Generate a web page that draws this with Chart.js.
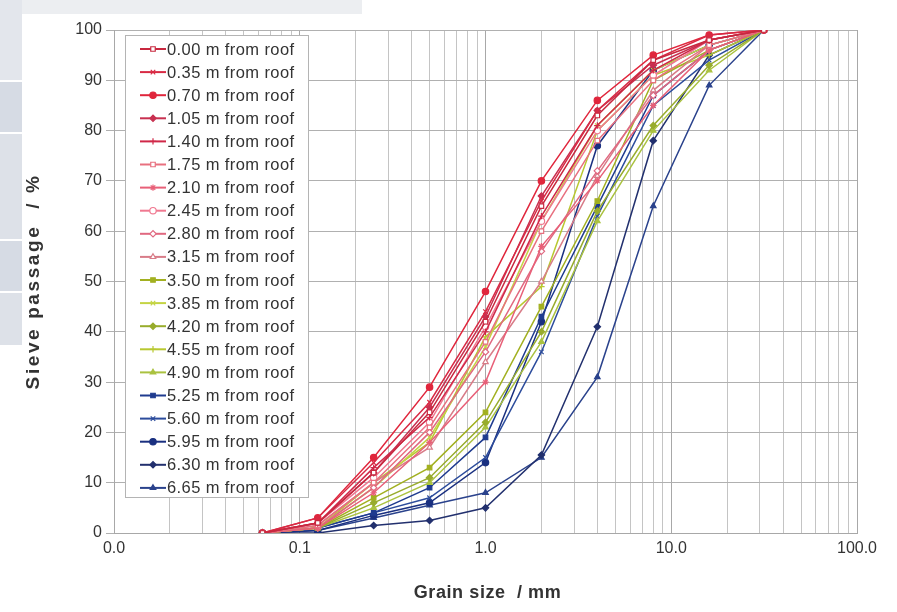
<!DOCTYPE html>
<html>
<head>
<meta charset="utf-8">
<script src="https://cdn.jsdelivr.net/npm/chart.js@4.4.1/dist/chart.umd.min.js"></script>
<style>
html,body{margin:0;padding:0;background:#fff;}
#wrap{position:relative;width:897px;height:612px;overflow:hidden;}
.bg{position:absolute;}
canvas{position:absolute;left:0;top:0;}
</style>
</head>
<body>
<div id="wrap">
<div class="bg" style="left:0;top:0;width:22px;height:80px;background:#e3e6ec;"></div>
<div class="bg" style="left:0;top:82px;width:22px;height:50px;background:#d6dbe4;"></div>
<div class="bg" style="left:0;top:134px;width:22px;height:105px;background:#dde1e8;"></div>
<div class="bg" style="left:0;top:241px;width:22px;height:50px;background:#d6dbe4;"></div>
<div class="bg" style="left:0;top:293px;width:22px;height:52px;background:#dde1e8;"></div>
<div class="bg" style="left:22px;top:0;width:340px;height:14px;background:#eceef1;"></div>
<canvas id="c" width="897" height="612"></canvas>
</div>
<script>
// Grain sizes (mm)
const grainSizes = [0.063, 0.125, 0.25, 0.5, 1, 2, 4, 8, 16, 31.5];
// Tick labels on the log axis (decades)
const xDecades = [0.01, 0.1, 1, 10, 100];
const yTicks = [0,10,20,30,40,50,60,70,80,90,100];
const xTitle = "Grain size  / mm";
const yTitle = "Sieve passage  / %";

// Series labels
const seriesLabels = [
  "0.00 m from roof","0.35 m from roof","0.70 m from roof","1.05 m from roof","1.40 m from roof",
  "1.75 m from roof","2.10 m from roof","2.45 m from roof","2.80 m from roof","3.15 m from roof",
  "3.50 m from roof","3.85 m from roof","4.20 m from roof","4.55 m from roof","4.90 m from roof",
  "5.25 m from roof","5.60 m from roof","5.95 m from roof","6.30 m from roof","6.65 m from roof"
];

// Sieve passage (%) per depth
const d000 = [0, 2.0, 12, 24, 42, 65, 83, 94, 98, 100];
const d035 = [0, 3.0, 14, 26, 44, 66, 84, 94, 99, 100];
const d070 = [0, 3.0, 15, 29, 48, 70, 86, 95, 99, 100];
const d105 = [0, 2.0, 12, 25, 43, 67, 84, 93, 98, 100];
const d140 = [0, 2.0, 13, 23, 40, 63, 81, 92, 98, 100];
const d175 = [0, 1.5, 10, 21, 38, 60, 78, 90, 97, 100];
const d210 = [0, 1.0, 8, 18, 30, 57, 70, 85, 96, 100];
const d245 = [0, 2.0, 11, 22, 41, 62, 80, 91, 98, 100];
const d280 = [0, 1.0, 9, 20, 36, 56, 72, 87, 96, 100];
const d315 = [0, 1.5, 10, 17, 34, 50, 71, 88, 97, 100];
const d350 = [0, 1.0, 7, 13, 24, 45, 66, 90, 96, 100];
const d385 = [0, 1.0, 9, 19, 37, 62, 81, 92, 97, 100];
const d420 = [0, 1.0, 6, 11, 22, 40, 64, 81, 93, 100];
const d455 = [0, 1.0, 10, 18, 39, 49, 80, 91, 95, 100];
const d490 = [0, 1.0, 5, 10, 21, 38, 62, 80, 92, 100];
const d525 = [0, 1.0, 4, 9, 19, 43, 65, 87, 96, 100];
const d560 = [0, 1.0, 4, 7, 15, 36, 63, 85, 94, 100];
const d595 = [0, 0.5, 3.5, 6, 14, 42, 77, 92, 97, 100];
const d630 = [0, 0.0, 1.5, 2.5, 5, 15.5, 41, 78, 95, 100];
const d665 = [0, 0.5, 3, 5.5, 8, 15, 31, 65, 89, 100];
const seriesValues = [d000,d035,d070,d105,d140,d175,d210,d245,d280,d315,
                      d350,d385,d420,d455,d490,d525,d560,d595,d630,d665];

// Styles
const lineColors = [
  "#c8283f","#d82a44","#e0263c","#c83050","#d02848",
  "#e8707f","#e86078","#f07890","#e06880","#d87c88",
  "#a2b020","#c4d444","#98ac2c","#b8c830","#aac240",
  "#1f3b8f","#2c4c9c","#1a3080","#22306e","#2a428c"
];
const markerStyles = ["rect","crossRot","circle","rectRot","cross",
                      "rect","star","circle","rectRot","triangle",
                      "rect","crossRot","rectRot","cross","triangle",
                      "rect","crossRot","circle","rectRot","triangle"];
const markerFilled = [false,true,true,true,true,
                      false,true,false,false,false,
                      true,true,true,true,true,
                      true,true,true,true,true];

const datasets = seriesLabels.map((lab, i) => ({
  label: lab,
  data: grainSizes.map((g, j) => ({x: g, y: seriesValues[i][j]})),
  borderColor: lineColors[i],
  backgroundColor: markerFilled[i] ? lineColors[i] : "#ffffff",
  pointBorderColor: lineColors[i],
  pointBackgroundColor: markerFilled[i] ? lineColors[i] : "#ffffff",
  pointStyle: markerStyles[i],
  pointRadius: 3.2,
  pointBorderWidth: 1.2,
  borderWidth: 1.5,
  tension: 0,
  fill: false
}));

const FONT = "'Liberation Sans', Arial, sans-serif";

const legendPlugin = {
  id: 'insideLegend',
  afterDraw(chart) {
    const ctx = chart.ctx;
    const bx = 125, by = 35, bw = 183, bh = 462;
    ctx.save();
    ctx.fillStyle = "#ffffff";
    ctx.fillRect(bx, by, bw, bh);
    ctx.strokeStyle = "#b4b4b4";
    ctx.lineWidth = 1;
    ctx.strokeRect(bx + 0.5, by + 0.5, bw, bh);
    ctx.font = "16.5px " + FONT;
    if ('letterSpacing' in ctx) ctx.letterSpacing = "0.4px";
    ctx.textBaseline = "middle";
    ctx.textAlign = "left";
    chart.data.datasets.forEach((ds, i) => {
      const y = 49 + i * 23.1;
      ctx.strokeStyle = ds.borderColor;
      ctx.lineWidth = 2;
      ctx.beginPath();
      ctx.moveTo(140, y);
      ctx.lineTo(166, y);
      ctx.stroke();
      ctx.fillStyle = ds.pointBackgroundColor;
      ctx.strokeStyle = ds.pointBorderColor;
      ctx.lineWidth = 1.2;
      Chart.helpers.drawPoint(ctx, {pointStyle: ds.pointStyle, radius: 3.2, rotation: 0, borderWidth: 1.2}, 153, y);
      ctx.fillStyle = "#333333";
      ctx.fillText(ds.label, 167, y + 1);
    });
    // axis titles
    ctx.fillStyle = "#333333";
    ctx.textAlign = "center";
    ctx.font = "bold 18px " + FONT;
    if ('letterSpacing' in ctx) ctx.letterSpacing = "0.6px";
    const ca = chart.chartArea;
    ctx.fillText(xTitle, (ca.left + ca.right) / 2 + 2, 593);
    ctx.save();
    ctx.translate(34, (ca.top + ca.bottom) / 2);
    ctx.rotate(-Math.PI / 2);
    ctx.font = "bold 19px " + FONT;
    if ('letterSpacing' in ctx) ctx.letterSpacing = "2.6px";
    ctx.fillText(yTitle, 0, 0);
    ctx.restore();
    ctx.restore();
  }
};

const minorTicks = [];
for (let e = -2; e < 2; e++) {
  for (let m = 1; m <= 9; m++) minorTicks.push(m * Math.pow(10, e));
}
minorTicks.push(100);

function isDecade(v) {
  return xDecades.some(d => Math.abs(v - d) < d * 1e-6);
}

new Chart(document.getElementById('c'), {
  type: 'line',
  data: { datasets },
  plugins: [legendPlugin],
  options: {
    responsive: false,
    animation: false,
    layout: { padding: { left: 0, right: 40, top: 30, bottom: 0 } },
    plugins: { legend: { display: false }, tooltip: { enabled: false } },
    scales: {
      x: {
        type: 'logarithmic',
        min: 0.01, max: 100,
        afterBuildTicks: s => { s.ticks = minorTicks.map(v => ({value: v})); },
        afterFit: s => { s.height = 79; },
        ticks: {
          autoSkip: false, maxRotation: 0, padding: 6,
          color: "#333333",
          font: { family: FONT, size: 16 },
          callback: (v) => isDecade(v) ? Number(v).toFixed(1) : ''
        },
        grid: {
          drawTicks: false,
          color: c => (c.tick && isDecade(c.tick.value)) ? "#a8a8a8" : "#c4c4c4",
          lineWidth: 1
        },
        border: { color: "#a8a8a8" },
        title: { display: false }
      },
      y: {
        min: 0, max: 100,
        afterBuildTicks: s => { s.ticks = yTicks.map(v => ({value: v})); },
        afterFit: s => { s.width = 114; },
        ticks: {
          padding: 4, color: "#333333",
          font: { family: FONT, size: 16 }
        },
        grid: { color: "#b0b0b0", lineWidth: 1, tickLength: 8 },
        border: { color: "#a8a8a8" },
        title: { display: false }
      }
    }
  }
});
</script>
</body>
</html>
